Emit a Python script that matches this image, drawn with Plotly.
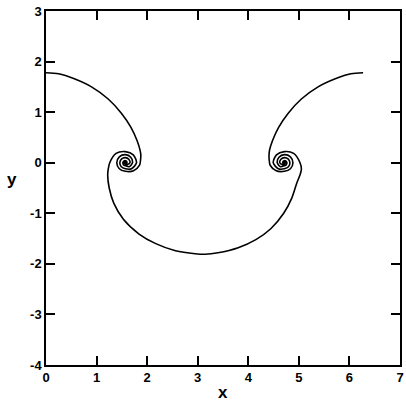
import plotly.graph_objects as go

# Upper-left branch of the sheet, from x = 0 down to the left roll-up
upper_left_x = [0.00, 0.25, 0.56, 0.90, 1.23, 1.49, 1.68, 1.80, 1.86, 1.875]
upper_left_y = [1.78, 1.76, 1.66, 1.50, 1.26, 0.98, 0.70, 0.44, 0.25, 0.15]

# Left roll-up: arm winding inward to the core
left_in_x = [1.87, 1.85, 1.73, 1.57, 1.45, 1.40, 1.45, 1.57, 1.676, 1.71, 1.648, 1.57, 1.531,
             1.52, 1.538, 1.57, 1.595, 1.60, 1.586, 1.57, 1.562]
left_in_y = [0.06, -0.05, -0.16, -0.17, -0.12, 0.00, 0.117, 0.16, 0.106, 0.00, -0.078, -0.06, -0.039,
             0.00, 0.032, 0.04, 0.025, 0.00, -0.016, -0.015, 0.00]

# Left roll-up: second arm winding back out toward the trough
left_out_x = [1.578, 1.57, 1.55, 1.57, 1.605, 1.66, 1.637, 1.57, 1.496, 1.46, 1.489, 1.57, 1.69,
              1.79, 1.726, 1.57, 1.386, 1.26, 1.23]
left_out_y = [0.00, 0.012, 0.00, -0.028, -0.035, 0.00, 0.067, 0.10, 0.074, 0.00, -0.081, -0.12, -0.12,
              0.00, 0.156, 0.22, 0.184, 0.00, -0.13]

# Lower trough between the two roll-ups
trough_x = [1.22, 1.25, 1.34, 1.53, 1.84, 2.17, 2.56, 2.95, 3.15, 3.40, 3.80, 4.15, 4.45,
            4.70, 4.86, 4.96, 5.02, 5.05]
trough_y = [-0.25, -0.50, -0.80, -1.12, -1.41, -1.60, -1.74, -1.80, -1.81, -1.78, -1.68, -1.52, -1.30,
            -1.00, -0.70, -0.40, -0.25, -0.13]

# Right roll-up: arm winding inward from the trough
right_in_x = [5.023, 4.897, 4.713, 4.557, 4.493, 4.593, 4.713, 4.794, 4.823, 4.787, 4.713, 4.646,
              4.623, 4.678, 4.713, 4.733, 4.713, 4.705]
right_in_y = [0.00, 0.184, 0.22, 0.156, 0.00, -0.12, -0.12, -0.081, 0.00, 0.074, 0.10, 0.067,
              0.00, -0.035, -0.028, 0.00, 0.012, 0.00]

# Right roll-up: arm winding back out to the upper-right branch
right_out_x = [4.721, 4.713, 4.697, 4.683, 4.688, 4.713, 4.745, 4.763, 4.752, 4.713, 4.635, 4.573,
               4.607, 4.713, 4.833, 4.883, 4.833, 4.713, 4.553, 4.433, 4.413]
right_out_y = [0.00, -0.015, -0.016, 0.00, 0.025, 0.04, 0.032, 0.00, -0.039, -0.06, -0.078, 0.00,
               0.106, 0.16, 0.117, 0.00, -0.12, -0.17, -0.16, -0.05, 0.06]

# Upper-right branch, from the right roll-up out to x = 2*pi
upper_right_x = [4.41, 4.42, 4.48, 4.60, 4.79, 5.05, 5.38, 5.72, 6.03, 6.27]
upper_right_y = [0.15, 0.25, 0.44, 0.70, 0.98, 1.26, 1.50, 1.66, 1.76, 1.78]

x_ticks = [0, 1, 2, 3, 4, 5, 6, 7]
x_tick_labels = ["0", "1", "2", "3", "4", "5", "6", "7"]
y_ticks = [-4, -3, -2, -1, 0, 1, 2, 3]
y_tick_labels = ["-4", "-3", "-2", "-1", "0", "1", "2", "3"]

sheet_x = (upper_left_x + left_in_x + left_out_x + trough_x
           + right_in_x + right_out_x + upper_right_x)
sheet_y = (upper_left_y + left_in_y + left_out_y + trough_y
           + right_in_y + right_out_y + upper_right_y)

fig = go.Figure(
    go.Scatter(
        x=sheet_x, y=sheet_y, mode="lines",
        line=dict(color="black", width=1.6, shape="spline", smoothing=0.8),
        hoverinfo="skip", showlegend=False,
    )
)

tick_font = dict(family="Liberation Sans, Arial, sans-serif", size=13,
                 color="black", weight="bold")
axis_common = dict(
    showgrid=False, zeroline=False, showline=True, mirror="ticks",
    linecolor="black", linewidth=1.5, ticks="inside", ticklen=9,
    tickwidth=1.5, tickcolor="black", tickfont=tick_font,
)

fig.update_xaxes(range=[0, 7], tickvals=x_ticks, ticktext=x_tick_labels, **axis_common)
fig.update_yaxes(range=[-4, 3], tickvals=y_ticks, ticktext=y_tick_labels, **axis_common)

title_font = dict(family="Liberation Sans, Arial, sans-serif", size=17,
                  color="black", weight="bold")
fig.update_layout(
    width=406, height=402, autosize=False,
    margin=dict(l=46, r=2, t=11, b=37),
    paper_bgcolor="white", plot_bgcolor="white",
    annotations=[
        dict(text="x", xref="paper", yref="paper", x=0.5, y=-0.078,
             xanchor="center", yanchor="middle", showarrow=False, font=title_font),
        dict(text="y", xref="paper", yref="paper", x=-0.095, y=0.523,
             xanchor="center", yanchor="middle", showarrow=False, font=title_font),
    ],
)

fig.write_html("out.html")
